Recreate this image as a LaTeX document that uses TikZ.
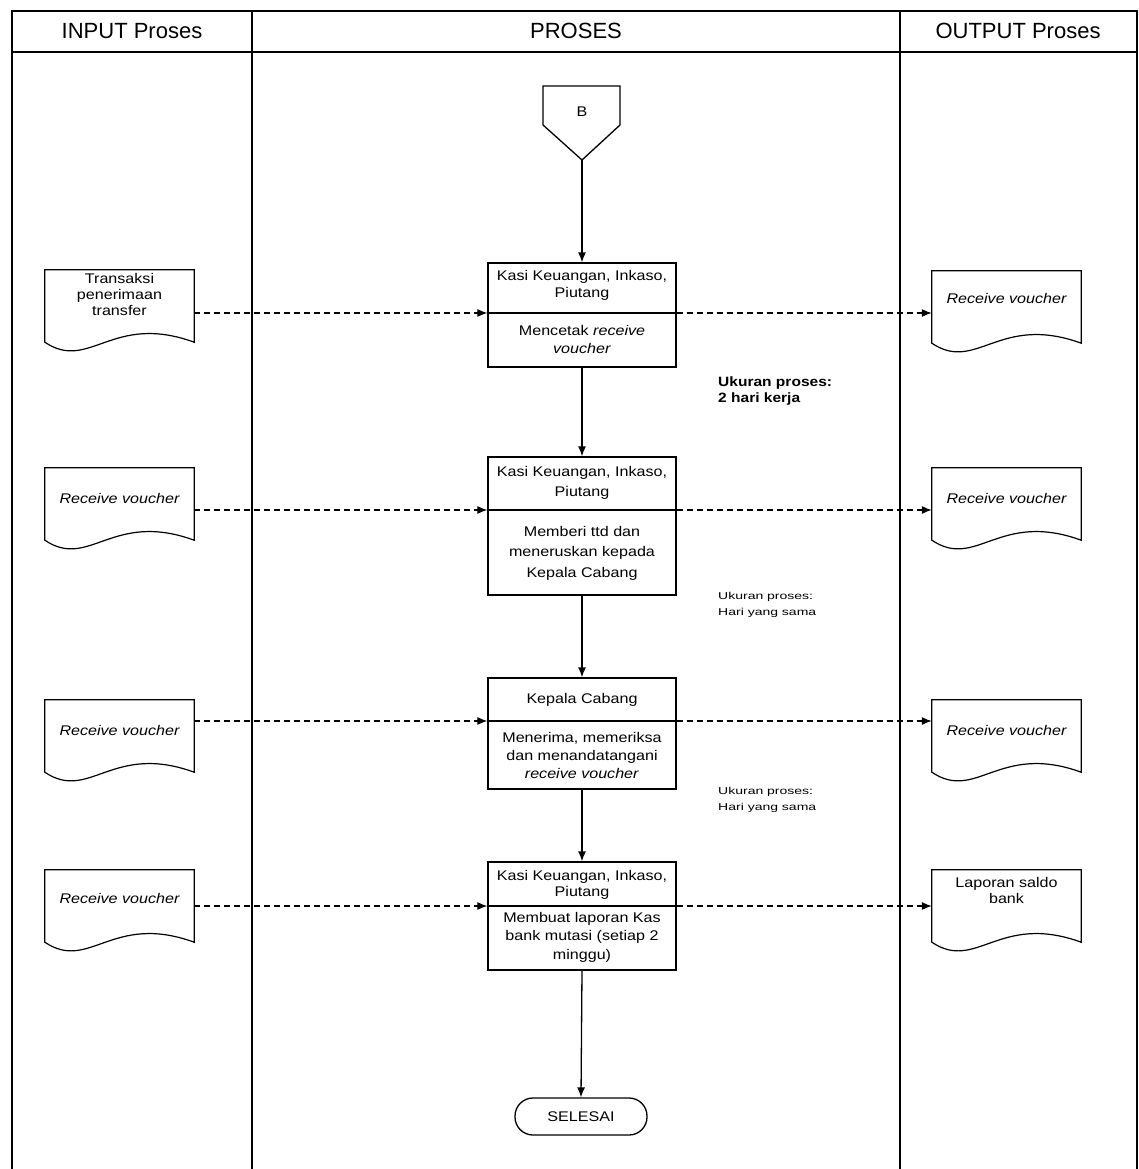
\documentclass[tikz,border=0pt]{standalone}
\usepackage{fontspec}
\setmainfont{Liberation Sans}
\newfontfamily\boxfont[FakeStretch=1.15]{Liberation Sans}
\newfontfamily\notefont[FakeStretch=1.4]{Liberation Sans}
\usetikzlibrary{arrows.meta,calc}
\newcommand\docoutline[1]{%
  \draw[docline] (#1.north west) -- (#1.north east) -- (#1.south east)
    .. controls ($(#1.south west)+(0.45*149,-30)$) and ($(#1.south west)+(0.3*149,30)$) .. (#1.south west) -- cycle;}
\begin{document}
\begin{tikzpicture}[x=1pt,y=-1pt,
  frame/.style={line width=1.6pt},
  boxline/.style={line width=1.3pt},
  docline/.style={line width=1.2pt},
  procbox/.style={draw, line width=1.3pt, minimum width=188pt, inner sep=0pt},
  txt/.style={font=\boxfont\fontsize{14}{18}\selectfont, align=center, inner sep=0pt},
  head/.style={font=\fontsize{22}{24}\selectfont, inner sep=0pt},
  doc/.style={minimum width=149pt, minimum height=72pt, inner sep=0pt},
  arr/.style={line width=1.3pt, -{Latex[length=10pt,width=8pt]}},
  darr/.style={line width=1.1pt, dash pattern=on 6pt off 4pt, -{Latex[length=10pt,width=8pt]}},
  bignote/.style={font=\boxfont\bfseries\fontsize{13.5}{16}\selectfont, align=left, anchor=west, inner sep=0pt},
  smallnote/.style={font=\notefont\fontsize{10}{16}\selectfont, align=left, anchor=west, inner sep=0pt},
  endbox/.style={draw, line width=1.3pt, rounded corners=18pt, minimum width=132pt, minimum height=37pt, inner sep=0pt, font=\boxfont\fontsize{14}{18}\selectfont}
]
\useasboundingbox (0,0) rectangle (1139,1169);
% frame
\draw[frame] (12,1169) -- (12,11) -- (1137,11) -- (1137,1169);
\draw[frame] (12,52) -- (1137,52);
\draw[frame] (252,11) -- (252,1169);
\draw[frame] (900,11) -- (900,1169);
\node[head] (h1) at (132,31) {INPUT Proses};
\node[head] (h2) at (576,31) {PROSES};
\node[head] (h3) at (1018,31) {OUTPUT Proses};

% off-page connector B
\node[inner sep=0pt, font=\boxfont\fontsize{14}{16}\selectfont] (B) at (582,112) {B};
\coordinate (Btip) at (582,160);
\draw[boxline] (543,86) -- (620,86) -- (620,125) -- (Btip) -- (543,125) -- cycle;

% process boxes
\node[procbox, minimum height=104pt] (p1) at (582,315) {};
\coordinate (p1d) at (582,313);
\draw[boxline] (p1.west |- p1d) -- (p1.east |- p1d);
\node[txt, font=\boxfont\fontsize{14}{17}\selectfont] (p1a) at (582,285) {Kasi Keuangan, Inkaso,\\Piutang};
\node[txt] (p1b) at (582,339) {Mencetak \textit{receive}\\\textit{voucher}};

\node[procbox, minimum height=138pt] (p2) at (582,526) {};
\coordinate (p2d) at (582,510);
\draw[boxline] (p2.west |- p2d) -- (p2.east |- p2d);
\node[txt, font=\boxfont\fontsize{14}{20}\selectfont] (p2a) at (582,483) {Kasi Keuangan, Inkaso,\\Piutang};
\node[txt, font=\boxfont\fontsize{14}{20.5}\selectfont] (p2b) at (582,553) {Memberi ttd dan\\meneruskan kepada\\Kepala Cabang};

\node[procbox, minimum height=111pt] (p3) at (582,733.5) {};
\coordinate (p3d) at (582,721);
\draw[boxline] (p3.west |- p3d) -- (p3.east |- p3d);
\node[txt] (p3a) at (582,700) {Kepala Cabang};
\node[txt] (p3b) at (582,755) {Menerima, memeriksa\\dan menandatangani\\\textit{receive voucher}};

\node[procbox, minimum height=108pt] (p4) at (582,916) {};
\coordinate (p4d) at (582,906);
\draw[boxline] (p4.west |- p4d) -- (p4.east |- p4d);
\node[txt, font=\boxfont\fontsize{14}{16}\selectfont] (p4a) at (582,885) {Kasi Keuangan, Inkaso,\\Piutang};
\node[txt, font=\boxfont\fontsize{14}{18.5}\selectfont] (p4b) at (582,937) {Membuat laporan Kas\\bank mutasi (setiap 2\\minggu)};

\node[endbox] (end) at (581,1116.5) {SELESAI};

% documents
\node[doc] (i1) at (119.5,306) {}; \docoutline{i1}
\node[txt, font=\boxfont\fontsize{14}{16}\selectfont] (i1t) at (119.5,294) {Transaksi\\penerimaan\\transfer};
\node[doc] (o1) at (1006.5,307) {}; \docoutline{o1}
\node[txt, font=\boxfont\itshape\fontsize{14}{16}\selectfont] (o1t) at (1006.5,298) {Receive voucher};

\node[doc] (i2) at (119.5,504) {}; \docoutline{i2}
\node[txt, font=\boxfont\itshape\fontsize{14}{16}\selectfont] (i2t) at (119.5,498) {Receive voucher};
\node[doc] (o2) at (1006.5,504) {}; \docoutline{o2}
\node[txt, font=\boxfont\itshape\fontsize{14}{16}\selectfont] (o2t) at (1006.5,498) {Receive voucher};

\node[doc] (i3) at (119.5,736) {}; \docoutline{i3}
\node[txt, font=\boxfont\itshape\fontsize{14}{16}\selectfont] (i3t) at (119.5,730) {Receive voucher};
\node[doc] (o3) at (1006.5,736) {}; \docoutline{o3}
\node[txt, font=\boxfont\itshape\fontsize{14}{16}\selectfont] (o3t) at (1006.5,730) {Receive voucher};

\node[doc] (i4) at (119.5,906) {}; \docoutline{i4}
\node[txt, font=\boxfont\itshape\fontsize{14}{16}\selectfont] (i4t) at (119.5,898) {Receive voucher};
\node[doc] (o4) at (1006.5,906) {}; \docoutline{o4}
\node[txt, font=\boxfont\fontsize{14}{16}\selectfont] (o4t) at (1006.5,890) {Laporan saldo\\bank};

% notes
\node[bignote] (n1) at (718,391) {Ukuran proses:\\2 hari kerja};
\node[smallnote] (n2) at (718,605) {Ukuran proses:\\Hari yang sama};
\node[smallnote] (n3) at (718,800) {Ukuran proses:\\Hari yang sama};

% solid flow
\draw[arr] (Btip) -- (p1.north);
\draw[arr] (p1.south) -- (p2.north);
\draw[arr] (p2.south) -- (p3.north);
\draw[arr] (p3.south) -- (p4.north);
\draw[arr] (p4.south) -- (end.north);

% dashed flows
\draw[darr] (i1.east |- p1d) -- (p1.west |- p1d);
\draw[darr] (p1.east |- p1d) -- (o1.west |- p1d);
\draw[darr] (i2.east |- p2d) -- (p2.west |- p2d);
\draw[darr] (p2.east |- p2d) -- (o2.west |- p2d);
\draw[darr] (i3.east |- p3d) -- (p3.west |- p3d);
\draw[darr] (p3.east |- p3d) -- (o3.west |- p3d);
\draw[darr] (i4.east |- p4d) -- (p4.west |- p4d);
\draw[darr] (p4.east |- p4d) -- (o4.west |- p4d);
\end{tikzpicture}
\end{document}
